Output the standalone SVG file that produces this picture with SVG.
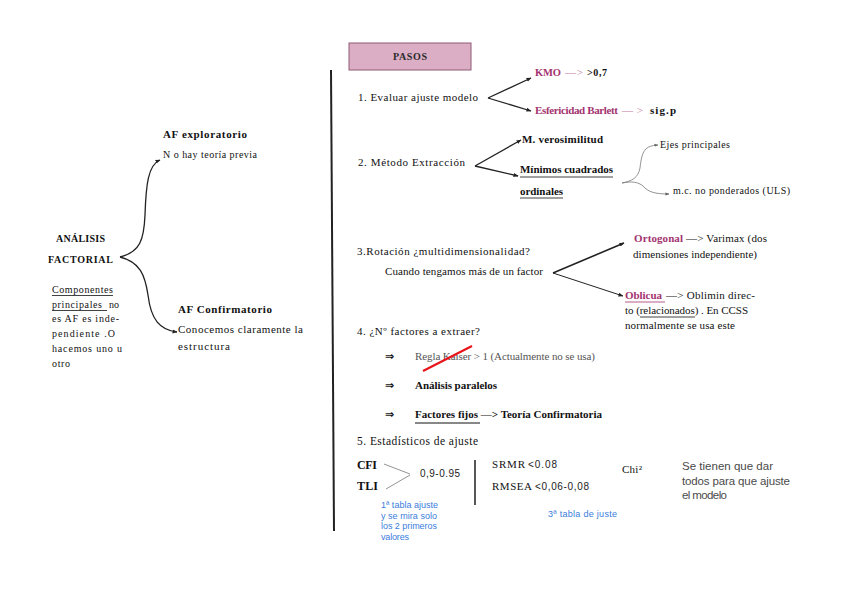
<svg xmlns="http://www.w3.org/2000/svg" width="848" height="599" viewBox="0 0 848 599">
<style>
.s{font-family:"Liberation Serif","DejaVu Serif",serif;font-size:11px;fill:#111}
.t{font-size:10px}
.b{font-weight:bold}
.p{fill:#a3336f;font-weight:bold}
.pa{fill:#c27aa0}
.sans{font-family:"Liberation Sans",Arial,sans-serif;font-size:10px;fill:#222}
.blue{font-family:"Liberation Sans",Arial,sans-serif;font-size:9px;fill:#3b7ddd}
.gray{font-family:"Liberation Sans",Arial,sans-serif;font-size:11.5px;fill:#4a4a4a}
.arr{font-family:"DejaVu Sans",sans-serif;font-size:11px;font-weight:bold;fill:#111}
.ln{stroke:#222;stroke-width:1.3;fill:none}
.lg{stroke:#777;stroke-width:0.8;fill:none}
.ul{stroke:#111;stroke-width:0.8}
</style>
<defs>
<marker id="ah" viewBox="0 0 10 10" refX="9" refY="5" markerWidth="5" markerHeight="5" orient="auto" markerUnits="userSpaceOnUse"><path d="M0,1 L10,5 L0,9 z" fill="#222"/></marker>
<marker id="ag" viewBox="0 0 10 10" refX="9" refY="5" markerWidth="4" markerHeight="4" orient="auto" markerUnits="userSpaceOnUse"><path d="M0,1 L10,5 L0,9 z" fill="#666"/></marker>
</defs>
<rect width="848" height="599" fill="#fff"/>

<g id="connectors">
<line x1="331" y1="70" x2="334" y2="531" stroke="#222" stroke-width="2"/>
<path class="ln" d="M120,257 C140,252 144,240 145,215 C146,185 148,165 160,160" marker-end="url(#ah)"/>
<path class="ln" d="M120,257 C140,262 145,275 148,295 C151,320 160,330 177,332" marker-end="url(#ah)"/>
<line class="ln" x1="488" y1="98" x2="531" y2="78" marker-end="url(#ah)"/>
<line class="ln" x1="488" y1="98" x2="531" y2="111" marker-end="url(#ah)"/>
<line class="ln" x1="475" y1="166" x2="521" y2="140" marker-end="url(#ah)"/>
<line class="ln" x1="475" y1="166" x2="518" y2="176" marker-end="url(#ah)"/>
<path class="lg" d="M622,183 C632,181 638,178 640,168 C642,150 645,146 658,145" marker-end="url(#ag)"/>
<path class="lg" d="M622,183 C632,181 638,182 643,186 C648,192 655,194 669,194" marker-end="url(#ag)"/>
<line x1="553" y1="273" x2="624" y2="243" stroke="#222" stroke-width="1.6" marker-end="url(#ah)"/>
<line x1="553" y1="273" x2="623" y2="296" stroke="#222" stroke-width="1" marker-end="url(#ah)"/>
<line x1="384" y1="464" x2="410" y2="474" stroke="#777" stroke-width="0.8"/>
<line x1="386" y1="489" x2="410" y2="475" stroke="#777" stroke-width="0.8"/>
<line x1="475" y1="460" x2="475" y2="505" stroke="#444" stroke-width="1.8"/>
</g>

<g id="analisis">
<text class="s b t" x="56" y="242" textLength="49">ANÁLISIS</text>
<text class="s b t" x="48" y="263" textLength="65">FACTORIAL</text>
</g>
<g id="componentes">
<text class="s t" x="52" y="293" textLength="61">Componentes</text>
<line class="ul" x1="52" y1="295.5" x2="113" y2="295.5"/>
<text class="s t" x="52" y="308" textLength="50">principales</text>
<line class="ul" x1="52" y1="310.5" x2="107" y2="310.5"/>
<text class="s t" x="109" y="308">no</text>
<text class="s t" x="52" y="322" textLength="67">es AF es inde-</text>
<text class="s t" x="52" y="337" textLength="63">pendiente .O</text>
<text class="s t" x="52" y="352" textLength="70">hacemos uno u</text>
<text class="s t" x="52" y="367" textLength="18">otro</text>
</g>
<g id="af-exploratorio">
<text class="s b" x="163" y="138" textLength="84">AF exploratorio</text>
<text class="s t" x="163" y="158" textLength="94">N o hay teoría previa</text>
</g>
<g id="af-confirmatorio">
<text class="s b" x="178" y="313" textLength="94">AF Confirmatorio</text>
<text class="s" x="178" y="333" textLength="125">Conocemos claramente la</text>
<text class="s" x="178" y="350" textLength="52">estructura</text>
</g>

<g id="pasos">
<rect x="349" y="43" width="122" height="27" fill="#dcaec5" stroke="#8e5b74" stroke-width="1"/>
<text class="s b t" x="393" y="60" textLength="34" style="fill:#2a2a2a">PASOS</text>
</g>

<g id="paso1">
<text class="s" x="358" y="101" textLength="120">1. Evaluar ajuste modelo</text>
</g>
<g id="kmo">
<text class="s p" x="535" y="76" style="font-size:10.5px" textLength="26">KMO</text>
<text class="s pa" x="565" y="76" textLength="18">—&gt;</text>
<text class="s b t" x="587" y="76" textLength="20">&gt;0,7</text>
</g>
<g id="esfericidad">
<text class="s p" x="535" y="114" textLength="83">Esfericidad Barlett</text>
<text class="s pa" x="622" y="114" textLength="21">—&gt;</text>
<text class="s b" x="650" y="114" textLength="26">sig.p</text>
</g>

<g id="paso2">
<text class="s" x="358" y="166" textLength="107">2. Método Extracción</text>
</g>
<g id="verosimilitud">
<text class="s b" x="522" y="143" textLength="81">M. verosimilitud</text>
</g>
<g id="minimos">
<text class="s b" x="520" y="173" textLength="93">Mínimos cuadrados</text>
<line class="ul" x1="520" y1="177" x2="613" y2="177"/>
<text class="s b" x="520" y="195" textLength="43">ordinales</text>
<line class="ul" x1="520" y1="198" x2="563" y2="198"/>
</g>
<g id="ejes">
<text class="s t" x="660" y="148" textLength="70">Ejes principales</text>
</g>
<g id="uls">
<text class="s t" x="673" y="194" textLength="117">m.c. no ponderados (ULS)</text>
</g>

<g id="paso3">
<text class="s" x="357" y="255" textLength="173">3.Rotación ¿multidimensionalidad?</text>
<text class="s" x="385" y="275" textLength="158">Cuando tengamos más de un factor</text>
</g>
<g id="ortogonal">
<text class="s p" x="634" y="242" textLength="49">Ortogonal</text>
<text class="s" x="686" y="242" textLength="81">—&gt; Varimax (dos</text>
<text class="s" x="633" y="258" textLength="124">dimensiones independiente)</text>
</g>
<g id="oblicua">
<text class="s p" x="625" y="299" textLength="37">Oblicua</text>
<line x1="625" y1="302" x2="665" y2="302" stroke="#a3336f" stroke-width="0.8"/>
<text class="s" x="666" y="299" textLength="89">—&gt; Oblimin direc-</text>
<text class="s" x="625" y="314" textLength="123">to (relacionados) . En CCSS</text>
<line class="ul" x1="640" y1="317" x2="695" y2="317"/>
<text class="s" x="625" y="329" textLength="110">normalmente se usa este</text>
</g>

<g id="paso4">
<text class="s" x="357" y="335" textLength="123">4. ¿Nº factores a extraer?</text>
</g>
<g id="kaiser">
<text class="arr" x="385" y="360">⇒</text>
<text class="s" x="415" y="360" style="fill:#555" textLength="180">Regla Kaiser &gt; 1  (Actualmente no se usa)</text>
<line x1="423" y1="371" x2="472" y2="346" stroke="#e8141b" stroke-width="2.2"/>
</g>
<g id="paralelos">
<text class="arr" x="385" y="389">⇒</text>
<text class="s b" x="415" y="389" textLength="82">Análisis paralelos</text>
</g>
<g id="fijos">
<text class="arr" x="385" y="418">⇒</text>
<text class="s b" x="415" y="418" textLength="187">Factores fijos —&gt; Teoría Confirmatoria</text>
<line x1="415" y1="423" x2="480" y2="423" stroke="#111" stroke-width="1"/>
</g>

<g id="paso5">
<text class="s" x="357" y="445" textLength="121" style="font-size:11.5px">5. Estadísticos de ajuste</text>
</g>
<g id="cfi-tli">
<text class="s b" x="357" y="469" style="font-size:12px" textLength="20">CFI</text>
<text class="s b" x="357" y="490" style="font-size:12px" textLength="21">TLI</text>
<text class="sans" x="420" y="477" textLength="40">0,9-0.95</text>
<text class="blue" x="381" y="508" textLength="57">1ª tabla ajuste</text>
<text class="blue" x="381" y="518.5" textLength="56">y se mira solo</text>
<text class="blue" x="381" y="529" textLength="56">los 2 primeros</text>
<text class="blue" x="381" y="540" textLength="28">valores</text>
</g>
<g id="srmr-rmsea">
<text class="s" x="492" y="468" textLength="33">SRMR</text>
<text class="sans" x="528" y="468" textLength="29">&lt;0.08</text>
<text class="s" x="492" y="490" textLength="40">RMSEA</text>
<text class="sans" x="535" y="490" textLength="54">&lt;0,06-0,08</text>
<text class="blue" x="548" y="517" textLength="69">3ª tabla de juste</text>
</g>
<g id="chi">
<text class="s" x="622" y="473" textLength="20">Chi²</text>
</g>
<g id="nota">
<text class="gray" x="682" y="470" textLength="91">Se tienen que dar</text>
<text class="gray" x="682" y="485" textLength="108">todos para que ajuste</text>
<text class="gray" x="682" y="499" textLength="45">el modelo</text>
</g>
</svg>
